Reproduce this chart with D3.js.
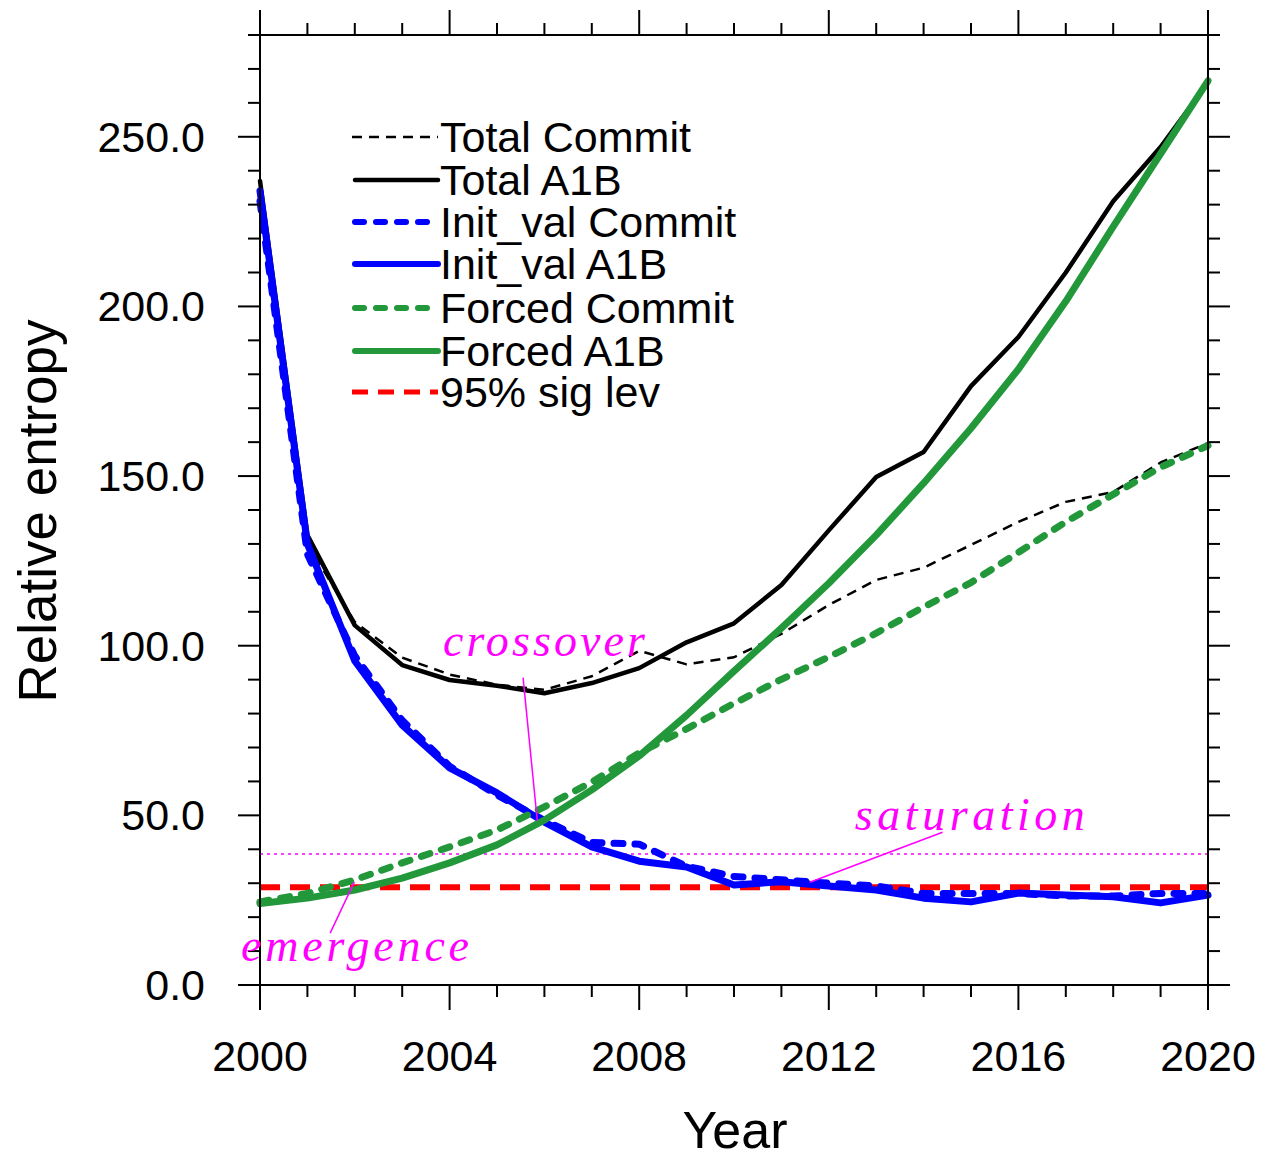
<!DOCTYPE html>
<html>
<head>
<meta charset="utf-8">
<script src="https://cdn.jsdelivr.net/npm/d3@7"></script>
<style>
  body { margin: 0; background: #fff; }
  text { font-family: "Liberation Sans", Arial, sans-serif; }
</style>
</head>
<body>
<svg id="chart" width="1267" height="1158"></svg>
<script>
// years 2000..2020, one value per year
var years = d3.range(2000, 2021);

var totalCommit  = [235, 130, 107, 96.5, 91.5, 88.5, 87, 91, 98.5, 94.5, 96.6, 103.5, 112, 119.4, 123, 129.7, 136.5, 142.4, 145.3, 154, 159.7];
var totalA1B     = [237, 132.6, 106, 94.3, 89.9, 88.2, 86, 89, 93.4, 101, 106.6, 117.9, 134, 149.7, 157.1, 176.5, 191, 210, 231, 247, 266];
var initCommit   = [231, 127, 97, 78, 64.5, 56, 48.5, 42, 41.5, 35, 32, 31, 30, 29.2, 27, 27, 27, 26.2, 26.2, 27, 27];
var initA1B      = [234, 130, 95.5, 76.6, 64, 56.6, 48, 40.7, 36.5, 34.8, 29.5, 30.4, 29.2, 28, 25.6, 24.5, 27.1, 26.5, 26, 24.2, 26.5];
var forcedCommit = [24.5, 27, 31, 36, 40.7, 45.7, 52.5, 59.8, 68.4, 75.5, 83, 90.1, 96.7, 103.7, 111.4, 118.6, 127.5, 136.5, 144.6, 152.6, 159];
var forcedA1B    = [24, 25.6, 28, 31.5, 36, 41.3, 48.6, 57.5, 67.5, 79.5, 92.5, 105.2, 118.4, 132.6, 147.9, 164.1, 181.5, 201.5, 223.5, 245, 266.5];

var sigLevel = 28.8;      // 95% sig lev
var saturationLevel = 38.6;

var yTicks = [0, 50, 100, 150, 200, 250];
var xTicks = [2000, 2004, 2008, 2012, 2016, 2020];

var legendLabels = ["Total Commit", "Total A1B", "Init_val Commit", "Init_val A1B", "Forced Commit", "Forced A1B", "95% sig lev"];

// annotations: [label, text x, text y, pointer x1, y1, x2, y2, text width] in data units
var notes = [
  ["crossover", 2003.86, 97.0, 2005.55, 90.6, 2005.85, 48.4, 202],
  ["saturation", 2012.55, 45.6, 2014.4, 45.0, 2011.6, 30.3, 230],
  ["emergence", 1999.6, 7.0, 2001.48, 15.3, 2001.99, 30.4, 228]
];

var svg = d3.select('#chart');
// note: "top" is taken by window.top, so use plot* names
var plotL = 260, plotR = 1208, plotT = 35, plotB = 985;

var x = d3.scaleLinear().domain([2000, 2020]).range([plotL, plotR]);
var y = d3.scaleLinear().domain([0, 280]).range([plotB, plotT]);

var green = '#22983a';

var series = [
  { data: totalCommit,  color: '#000', width: 2.5, dash: '10,7',  cap: 'butt' },
  { data: totalA1B,     color: '#000', width: 4.5, dash: null,    cap: 'round' },
  { data: initCommit,   color: '#0000ff', width: 7, dash: '9,12', cap: 'round' },
  { data: initA1B,      color: '#0000ff', width: 7, dash: null,   cap: 'round' },
  { data: forcedCommit, color: green, width: 7, dash: '9,12',    cap: 'round' },
  { data: forcedA1B,    color: green, width: 7, dash: null,      cap: 'round' }
];

// reference lines first
svg.append('line')
  .attr('x1', x(2000)).attr('x2', x(2020))
  .attr('y1', y(saturationLevel)).attr('y2', y(saturationLevel))
  .attr('stroke', '#ff00ff').attr('stroke-width', 1.5)
  .attr('stroke-dasharray', '3,4');

svg.append('line')
  .attr('x1', x(2000)).attr('x2', x(2020))
  .attr('y1', y(sigLevel)).attr('y2', y(sigLevel))
  .attr('stroke', '#ff0000').attr('stroke-width', 6)
  .attr('stroke-dasharray', '20,10');

var line = d3.line()
  .x(function(d, i) { return x(years[i]); })
  .y(function(d) { return y(d); });

series.forEach(function(s) {
  svg.append('path')
    .datum(s.data)
    .attr('d', line)
    .attr('fill', 'none')
    .attr('stroke', s.color)
    .attr('stroke-width', s.width)
    .attr('stroke-linejoin', 'round')
    .attr('stroke-linecap', s.cap)
    .attr('stroke-dasharray', s.dash);
});

// frame
svg.append('rect')
  .attr('x', plotL).attr('y', plotT)
  .attr('width', plotR - plotL).attr('height', plotB - plotT)
  .attr('fill', 'none').attr('stroke', '#000').attr('stroke-width', 2);

// ticks, pointing outwards on all four sides
var xMinor = d3.range(2000, 2021);
var yMinor = d3.range(0, 281, 10);

xMinor.forEach(function(v) {
  var l = xTicks.indexOf(v) >= 0 ? 25 : 12;
  svg.append('line').attr('x1', x(v)).attr('x2', x(v))
    .attr('y1', plotB).attr('y2', plotB + l)
    .attr('stroke', '#000').attr('stroke-width', 2);
  svg.append('line').attr('x1', x(v)).attr('x2', x(v))
    .attr('y1', plotT).attr('y2', plotT - l)
    .attr('stroke', '#000').attr('stroke-width', 2);
});

yMinor.forEach(function(v) {
  var l = yTicks.indexOf(v) >= 0 ? 22 : 12;
  svg.append('line').attr('x1', plotL).attr('x2', plotL - l)
    .attr('y1', y(v)).attr('y2', y(v))
    .attr('stroke', '#000').attr('stroke-width', 2);
  svg.append('line').attr('x1', plotR).attr('x2', plotR + l)
    .attr('y1', y(v)).attr('y2', y(v))
    .attr('stroke', '#000').attr('stroke-width', 2);
});

// tick labels
svg.selectAll('.ylab').data(yTicks).enter().append('text')
  .attr('x', 205).attr('y', function(d) { return y(d) + 15; })
  .attr('text-anchor', 'end').attr('font-size', 43)
  .text(function(d) { return d.toFixed(1); });

svg.selectAll('.xlab').data(xTicks).enter().append('text')
  .attr('x', function(d) { return x(d); }).attr('y', 1071)
  .attr('text-anchor', 'middle').attr('font-size', 43)
  .text(function(d) { return d; });

// axis titles
svg.append('text')
  .attr('x', 735).attr('y', 1148)
  .attr('text-anchor', 'middle').attr('font-size', 52)
  .text('Year');

svg.append('text')
  .attr('transform', 'translate(56,511) rotate(-90)')
  .attr('text-anchor', 'middle').attr('font-size', 53)
  .text('Relative entropy');

// legend
var legendStyles = series.concat([{ color: '#ff0000', width: 5, dash: '16,10', cap: 'butt' }]);
var legendY = [137, 180, 222, 264, 308, 351, 392];
legendLabels.forEach(function(lab, i) {
  var s = legendStyles[i];
  svg.append('line')
    .attr('x1', s.cap === 'round' ? 355 : 352).attr('x2', 438)
    .attr('y1', legendY[i]).attr('y2', legendY[i])
    .attr('stroke', s.color).attr('stroke-width', s.width === 7 ? 6 : s.width)
    .attr('stroke-linecap', s.cap)
    .attr('stroke-dasharray', s.dash);
  svg.append('text')
    .attr('x', 440).attr('y', legendY[i] + 15)
    .attr('font-size', 43)
    .text(lab);
});

// annotations
notes.forEach(function(n) {
  svg.append('line')
    .attr('x1', x(n[3])).attr('y1', y(n[4]))
    .attr('x2', x(n[5])).attr('y2', y(n[6]))
    .attr('stroke', '#ff00ff').attr('stroke-width', 1.5);
  svg.append('text')
    .attr('x', x(n[1])).attr('y', y(n[2]))
    .style('font-family', '"Liberation Serif", "DejaVu Serif", serif')
    .style('font-style', 'italic')
    .attr('font-size', 46)
    .attr('fill', '#ff00ff')
    .attr('textLength', n[7])
    .attr('lengthAdjust', 'spacing')
    .text(n[0]);
});
</script>
</body>
</html>
